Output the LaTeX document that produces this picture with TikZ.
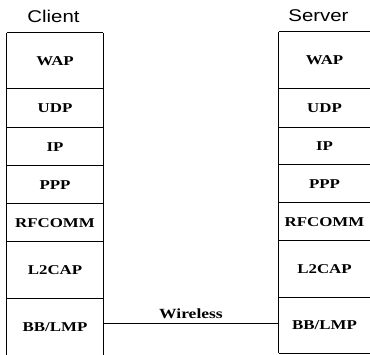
\documentclass[tikz,border=0pt]{standalone}
\usepackage{fontspec}
\setmainfont{Liberation Serif}
\newfontfamily\hvfont{Liberation Sans}
\usepackage{graphicx}
\newcommand\widelbl[1]{\scalebox{1.25}[1]{#1}}
\newcommand\widehead[1]{\scalebox{1.2}[1]{#1}}
\begin{document}
\begin{tikzpicture}[x=1pt,y=-1pt,
  cell/.style={inner sep=0pt, minimum width=96pt,
    font=\fontsize{13.5}{13.5}\selectfont\bfseries},
  scell/.style={cell, minimum width=91pt},
  head/.style={inner sep=0pt, font=\hvfont\fontsize{17}{17}\selectfont},
  rule/.style={line width=1.2pt},
  wire/.style={line width=1pt}]
\useasboundingbox (0,0) rectangle (370,355);
% client stack
\node[cell, minimum height=56pt] (cwap) at (55,61)    {\widelbl{WAP}};
\node[cell, minimum height=39pt] (cudp) at (55,108.5) {\widelbl{UDP}};
\node[cell, minimum height=38pt] (cip)  at (55,147)   {\widelbl{IP}};
\node[cell, minimum height=38pt] (cppp) at (55,185)   {\widelbl{PPP}};
\node[cell, minimum height=38pt] (crf)  at (55,223)   {\widelbl{RFCOMM}};
\node[cell, minimum height=57pt] (cl2)  at (55,270.5) {\widelbl{L2CAP}};
\node[cell, minimum height=56pt] (cbb)  at (55,327)   {\widelbl{BB/LMP}};
% server stack
\node[scell, minimum height=57pt] (swap) at (324.5,60.5)  {\widelbl{WAP}};
\node[scell, minimum height=39pt] (sudp) at (324.5,108.5) {\widelbl{UDP}};
\node[scell, minimum height=37pt] (sip)  at (324.5,146.5) {\widelbl{IP}};
\node[scell, minimum height=38pt] (sppp) at (324.5,184)   {\widelbl{PPP}};
\node[scell, minimum height=38pt] (srf)  at (324.5,222)   {\widelbl{RFCOMM}};
\node[scell, minimum height=57pt] (sl2)  at (324.5,269.5) {\widelbl{L2CAP}};
\node[scell, minimum height=55pt] (sbb)  at (324.5,325.5) {\widelbl{BB/LMP}};
% headings
\node[head] (client) at (53.5,16) {\widehead{Client}};
\node[head] (server) at (318.5,16) {\widehead{Server}};
% client outline
\draw[rule] (cwap.north west) -- (cwap.north east);
\draw[rule] (cwap.north west) -- (cbb.south west);
\draw[rule] (cwap.north east) -- (cbb.south east);
\foreach \n in {cudp,cip,cppp,crf,cl2,cbb}
  \draw[rule] (\n.north west) -- (\n.north east);
% server outline
\draw[rule] (swap.north west) -- (swap.north east);
\draw[rule] (swap.north west) -- (sbb.south west);
\foreach \n in {sudp,sip,sppp,srf,sl2,sbb}
  \draw[rule] (\n.north west) -- (\n.north east);
\draw[rule] (sbb.south west) -- (sbb.south east);
% wireless link
\draw[wire] ([yshift=3pt]cbb.east) -- ([yshift=3pt]cbb.east -| sbb.west)
  node[midway, anchor=south, inner sep=0pt, yshift=5pt, font=\fontsize{14}{14}\selectfont\bfseries] (wl) {\widelbl{Wireless}};
\end{tikzpicture}
\end{document}
